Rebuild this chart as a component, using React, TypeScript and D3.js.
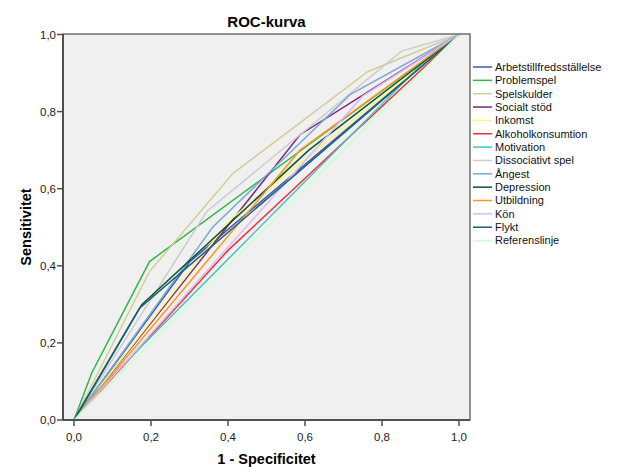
import React from "react";
import * as d3 from "d3";

const W = 629;
const H = 467;

const title = "ROC-kurva";
const xTitle = "1 - Specificitet";
const yTitle = "Sensitivitet";
const tickValues = [0, 0.2, 0.4, 0.6, 0.8, 1.0];

const seriesNames = [
  "Arbetstillfredsställelse",
  "Problemspel",
  "Spelskulder",
  "Socialt stöd",
  "Inkomst",
  "Alkoholkonsumtion",
  "Motivation",
  "Dissociativt spel",
  "Ångest",
  "Depression",
  "Utbildning",
  "Kön",
  "Flykt",
  "Referenslinje",
];

const seriesColors = [
  "#3E58AC",
  "#2EB848",
  "#D3CE97",
  "#7C287D",
  "#FBF873",
  "#EF3338",
  "#48C2C5",
  "#CCCCCC",
  "#7AAAD5",
  "#0A562C",
  "#F8981D",
  "#DDBAF1",
  "#1A5F76",
  "#CCFFCC",
];

// 1 - specificity (x) and sensitivity (y) for each curve
const fprArbete = [0, 0.3, 1];
const tprArbete = [0, 0.41, 1];
const fprProblem = [0, 0.046, 0.196, 1];
const tprProblem = [0, 0.122, 0.411, 1];
const fprSkulder = [0, 0.196, 0.413, 0.764, 1];
const tprSkulder = [0, 0.385, 0.64, 0.904, 1];
const fprSocialt = [0, 0.587, 1];
const tprSocialt = [0, 0.74, 1];
const fprInkomst = [0, 0.405, 1];
const tprInkomst = [0, 0.519, 1];
const fprAlkohol = [0, 0.4, 1];
const tprAlkohol = [0, 0.44, 1];
const fprMotivation = [0, 0.03, 0.9, 1];
const tprMotivation = [0, 0.045, 0.92, 1];
const fprDissoc = [0, 0.345, 0.851, 1];
const tprDissoc = [0, 0.541, 0.957, 1];
const fprAngest = [0, 0.36, 0.717, 1];
const tprAngest = [0, 0.5, 0.844, 1];
const fprDepression = [0, 0.176, 0.61, 1];
const tprDepression = [0, 0.299, 0.7, 1];
const fprUtbildning = [0, 0.587, 1];
const tprUtbildning = [0, 0.7, 1];
const fprKon = [0, 0.75, 1];
const tprKon = [0, 0.84, 1];
const fprFlykt = [0, 0.17, 1];
const tprFlykt = [0, 0.29, 1];
const fprRef = [0, 1];
const tprRef = [0, 1];

const seriesX = [
  fprArbete, fprProblem, fprSkulder, fprSocialt, fprInkomst, fprAlkohol, fprMotivation,
  fprDissoc, fprAngest, fprDepression, fprUtbildning, fprKon, fprFlykt, fprRef,
];
const seriesY = [
  tprArbete, tprProblem, tprSkulder, tprSocialt, tprInkomst, tprAlkohol, tprMotivation,
  tprDissoc, tprAngest, tprDepression, tprUtbildning, tprKon, tprFlykt, tprRef,
];

const fmt = (v: number) => v.toFixed(1).replace(".", ",");

export default function App() {
  const left = 63, right = 470, top = 34, bottom = 420;
  const pad = 11 / 385;
  const x = d3.scaleLinear().domain([-pad, 1 + pad]).range([left, right]);
  const y = d3.scaleLinear().domain([0, 1]).range([bottom, 34.5]);
  const line = d3
    .line<[number, number]>()
    .x((d) => x(d[0]))
    .y((d) => y(d[1]));

  const font = "'Liberation Sans', Arial, sans-serif";
  const legendX = 473;
  const legendY0 = 67;
  const legendDy = 13.35;

  return (
    <svg
      width={W}
      height={H}
      style={{ position: "absolute", left: 0, top: 0, background: "#fff" }}
      fontFamily={font}
    >
      <rect x={left} y={top} width={right - left} height={bottom - top} fill="#F0F0F0" />
      <g>
        {seriesNames.map((name, i) => {
          const pts = seriesX[i].map((v, j) => [v, seriesY[i][j]] as [number, number]);
          return (
            <path
              key={name}
              d={line(pts) || ""}
              fill="none"
              stroke={seriesColors[i]}
              strokeWidth={1.5}
            />
          );
        })}
      </g>
      {/* frame */}
      <rect x={left} y={top} width={right - left} height={bottom - top} fill="none" stroke="#6E6E6E" strokeWidth={1.5} />
      <line x1={left} x2={left} y1={top} y2={bottom} stroke="#505050" strokeWidth={2} />
      <line x1={left} x2={right} y1={bottom} y2={bottom} stroke="#505050" strokeWidth={2} />
      {/* y ticks */}
      {tickValues.map((t) => (
        <g key={"y" + t}>
          <line x1={left - 6} x2={left} y1={y(t)} y2={y(t)} stroke="#505050" strokeWidth={1.5} />
          <text x={left - 7} y={y(t)} dy="0.35em" textAnchor="end" fontSize={11.5} fill="#222">
            {fmt(t)}
          </text>
        </g>
      ))}
      {/* x ticks */}
      {tickValues.map((t) => (
        <g key={"x" + t}>
          <line x1={x(t)} x2={x(t)} y1={bottom} y2={bottom + 6} stroke="#505050" strokeWidth={1.5} />
          <text x={x(t)} y={437} dy="0.35em" textAnchor="middle" fontSize={11.5} fill="#222">
            {fmt(t)}
          </text>
        </g>
      ))}
      <text x={(left + right) / 2} y={22} dy="0.35em" textAnchor="middle" fontSize={15} fontWeight="bold" fill="#000">
        {title}
      </text>
      <text x={(left + right) / 2} y={459} dy="0.35em" textAnchor="middle" fontSize={14.5} fontWeight="bold" fill="#000">
        {xTitle}
      </text>
      <text
        transform={`translate(26,${(top + bottom) / 2}) rotate(-90)`}
        dy="0.35em"
        textAnchor="middle"
        fontSize={14.5}
        fontWeight="bold"
        fill="#000"
      >
        {yTitle}
      </text>
      {/* legend */}
      {seriesNames.map((name, i) => (
        <g key={"lg" + name} transform={`translate(${legendX},${legendY0 + i * legendDy})`}>
          <line x1={0} x2={19} y1={0} y2={0} stroke={seriesColors[i]} strokeWidth={1.5} />
          <text x={22} y={0} dy="0.35em" fontSize={11} fill="#111">
            {name}
          </text>
        </g>
      ))}
    </svg>
  );
}
